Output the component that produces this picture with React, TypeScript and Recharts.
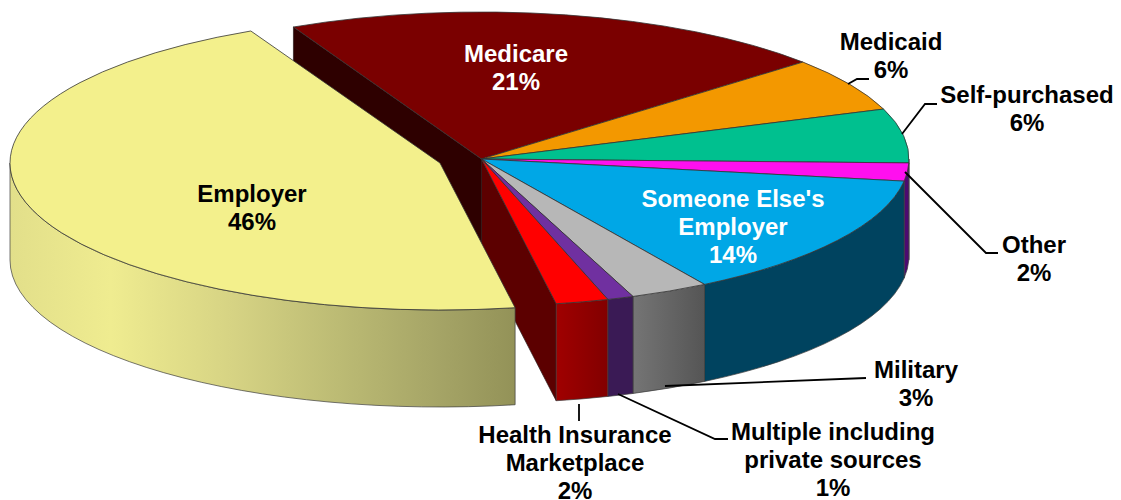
import React from "react";
import { Pie, PieChart } from "recharts";

const categories = [
  "Medicare",
  "Medicaid",
  "Self-purchased",
  "Other",
  "Someone Else's Employer",
  "Military",
  "Multiple including private sources",
  "Health Insurance Marketplace",
  "Employer",
];
const shares = [21, 6, 6, 2, 14, 3, 1, 2, 46];

const labelLines = [
  ["Medicare"],
  ["Medicaid"],
  ["Self-purchased"],
  ["Other"],
  ["Someone Else's", "Employer"],
  ["Military"],
  ["Multiple including", "private sources"],
  ["Health Insurance", "Marketplace"],
  ["Employer"],
];

const topColors = ["#7a0000", "#f39800", "#00c08f", "#ff0fef", "#00a7e6", "#b7b7b7", "#7030a0", "#ff0000", "#f3f08c"];
const wallColors = ["#3a0000", "#7a4c00", "#00604a", "#4c0a70", "#00435f", "url(#wallGrey)", "#3a1a55", "url(#wallRed)", "url(#wallYellow)"];
const labelColors = ["#fff", "#000", "#000", "#000", "#fff", "#000", "#000", "#000", "#000"];

// label anchor: centre x, first baseline y
const labelAnchors = [
  [516, 62],
  [891, 50],
  [1027, 103],
  [1034, 253],
  [733, 207],
  [916, 378],
  [833, 440],
  [575, 443],
  [252, 202],
];
// leader lines, drawn as polylines
const leaderLines: (string | null)[] = [
  null,
  "848,84 857,79 869,79",
  "902,134 925,104 937,104",
  "905,172 986,253 998,253",
  null,
  "665,386 866,378",
  "618,394 715,439 728,439",
  "579,404 579,421",
  null,
];

const CX = 481.5;
const CY = 159;
const RX = 427.5;
const RY = 147;
const DEPTH = 97;
const FONT_SIZE = 24;
const LINE_HEIGHT = 27.8;
const EMPLOYER = 8;
const MEDICARE = 0;
const MARKETPLACE = 7;

const rad = (a: number) => (a * Math.PI) / 180;

const PieSlice = (props: any) => {
  const { startAngle, endAngle, index } = props;
  const exploded = index === EMPLOYER;
  const cx = exploded ? 440 : CX;
  const cy = exploded ? 163 : CY;
  const rx = exploded ? 430 : RX;
  const ry = RY;
  const at = (a: number, drop = 0) => `${cx + rx * Math.cos(rad(a))},${cy - ry * Math.sin(rad(a)) + drop}`;
  const large = Math.abs(endAngle - startAngle) > 180 ? 1 : 0;
  const top = `M${cx},${cy} L${at(startAngle)} A${rx},${ry} 0 ${large} 1 ${at(endAngle)} Z`;

  const wallFrom = Math.min(startAngle, 0);
  const wallTo = Math.max(endAngle, -180);
  const wall =
    wallFrom > wallTo
      ? `M${at(wallFrom)} A${rx},${ry} 0 0 1 ${at(wallTo)} L${at(wallTo, DEPTH)} A${rx},${ry} 0 0 0 ${at(wallFrom, DEPTH)} Z`
      : null;

  let face: string | null = null;
  let faceColor = "";
  if (index === MEDICARE) {
    face = `M${cx},${cy} L${at(startAngle)} L${at(startAngle, DEPTH)} L${cx},${cy + DEPTH} Z`;
    faceColor = "#2e0000";
  }
  if (index === MARKETPLACE) {
    face = `M${cx},${cy} L${at(endAngle)} L${at(endAngle, DEPTH)} L${cx},${cy + DEPTH} Z`;
    faceColor = "#5c0000";
  }

  return (
    <g>
      <defs>
        <linearGradient id="wallYellow" x1="0" x2="1" y1="0" y2="0">
          <stop offset="0" stopColor="#e2df8a" />
          <stop offset="0.2" stopColor="#efec90" />
          <stop offset="0.45" stopColor="#d5d283" />
          <stop offset="0.65" stopColor="#bcbb74" />
          <stop offset="0.85" stopColor="#a5a466" />
          <stop offset="1" stopColor="#939258" />
        </linearGradient>
        <linearGradient id="wallGrey" x1="0" x2="1" y1="0" y2="0">
          <stop offset="0" stopColor="#757575" />
          <stop offset="1" stopColor="#555555" />
        </linearGradient>
        <linearGradient id="wallRed" x1="0" x2="1" y1="0" y2="0">
          <stop offset="0" stopColor="#a00000" />
          <stop offset="1" stopColor="#820000" />
        </linearGradient>
      </defs>
      {face && <path d={face} fill={faceColor} stroke="#2a1a1a" strokeWidth={0.7} />}
      {wall && <path d={wall} fill={wallColors[index]} stroke="#3c3c3c" strokeWidth={0.7} />}
      <path d={top} fill={topColors[index]} stroke="#333" strokeWidth={0.8} />
    </g>
  );
};

const SliceLabel = (props: any) => {
  const { index } = props;
  const [x, y] = labelAnchors[index];
  const lines = [...labelLines[index], `${shares[index]}%`];
  const leader = leaderLines[index];
  return (
    <g>
      {leader && <polyline points={leader} fill="none" stroke="#000" strokeWidth={1.8} />}
      <text
        x={x}
        y={y}
        textAnchor="middle"
        fontFamily="Liberation Sans"
        fontWeight="bold"
        fontSize={FONT_SIZE}
        fill={labelColors[index]}
      >
        {lines.map((line, i) => (
          <tspan key={line} x={x} y={y + i * LINE_HEIGHT}>
            {line}
          </tspan>
        ))}
      </text>
    </g>
  );
};

const chartData = categories.map((name, i) => ({ name, value: shares[i] }));

const App: React.FC = () => {
  return (
    <div style={{ position: "absolute", left: 0, top: 0, width: 1121, height: 500 }}>
      <PieChart width={1121} height={500} margin={{ top: 0, right: 0, bottom: 0, left: 0 }}>
        <Pie
          data={chartData}
          dataKey="value"
          nameKey="name"
          cx={CX}
          cy={CY}
          outerRadius={RX}
          startAngle={116.1}
          endAngle={-243.9}
          isAnimationActive={false}
          shape={PieSlice}
          label={SliceLabel}
          labelLine={false}
        />
      </PieChart>
    </div>
  );
};

export default App;
